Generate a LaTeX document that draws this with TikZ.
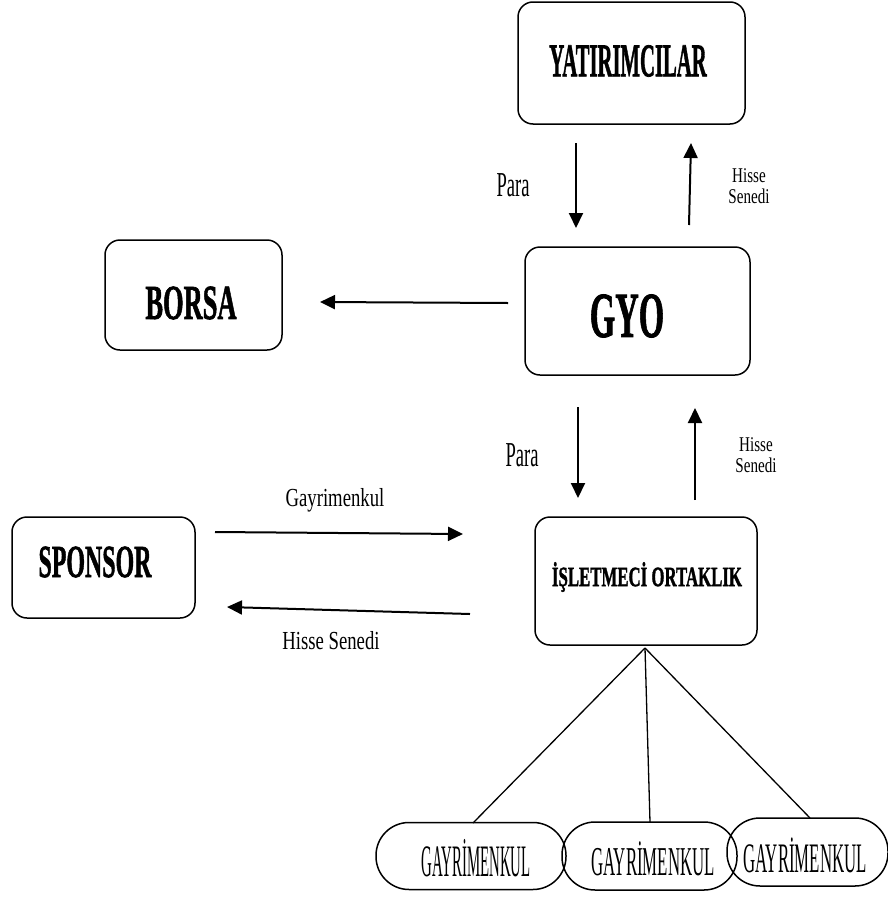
\documentclass[tikz,border=0pt]{standalone}
\usepackage{graphicx}
\usepackage{fontspec}
\setmainfont{Liberation Serif}
\newfontfamily\heavyfont[UprightFont=* Bold,FakeBold=1.6]{Liberation Serif}
\usetikzlibrary{arrows.meta}
\newcommand\mytxt[3]{\scalebox{#2}[1]{\fontsize{#1}{#1}\selectfont #3}}
\begin{document}
\begin{tikzpicture}[x=1pt,y=-1pt,
  box/.style={draw,line width=1.5pt,rounded corners=15pt,inner sep=0pt},
  pill/.style={draw,line width=1.5pt,rounded corners=33pt,inner sep=0pt},
  arr/.style={line width=2pt,-{Triangle[length=15pt,width=14pt]}},
  lbl/.style={inner sep=0pt,align=center},
  conn/.style={line width=1.3pt}]
\useasboundingbox (0,0) rectangle (888,897);

% main boxes
\node[box,minimum width=227pt,minimum height=122pt] (yat) at (631.5,63) {};
\node[lbl] (yatT) at (628,61) {\mytxt{47}{0.44}{\heavyfont YATIRIMCILAR}};
\node[box,minimum width=225pt,minimum height=128pt] (gyo) at (637.5,311) {};
\node[lbl] (gyoT) at (627,316) {\mytxt{64}{0.51}{\heavyfont GYO}};
\node[box,minimum width=177pt,minimum height=110pt] (borsa) at (193.5,295) {};
\node[lbl] (borsaT) at (191,303) {\mytxt{49}{0.54}{\heavyfont BORSA}};
\node[box,minimum width=183pt,minimum height=101pt] (spon) at (103.5,567.5) {};
\node[lbl] (sponT) at (95,562) {\mytxt{46}{0.52}{\heavyfont SPONSOR}};
\node[box,minimum width=222pt,minimum height=128pt] (isl) at (646,581) {};
\node[lbl] (islT) at (647,577) {\mytxt{28}{0.6}{\heavyfont İŞLETMECİ ORTAKLIK}};

% bottom pills
\node[pill,minimum width=190pt,minimum height=67pt] (g1) at (471,856) {};
\node[lbl] (g1T) at (476,858) {\mytxt{45}{0.33}{GAYRİMENKUL}};
\node[pill,minimum width=175pt,minimum height=68pt] (g2) at (649.5,856) {};
\node[lbl] (g2T) at (653,859) {\mytxt{41}{0.41}{GAYRİMENKUL}};
\node[pill,minimum width=161pt,minimum height=68pt] (g3) at (807.5,852) {};
\node[lbl] (g3T) at (805,855) {\mytxt{42}{0.40}{GAYRİMENKUL}};

% connector lines
\coordinate (top) at (645,648);
\coordinate (e1) at (473,823);
\coordinate (e2) at (650,822);
\coordinate (e3) at (810,818);
\draw[conn] (top) -- (e1);
\draw[conn] (top) -- (e2);
\draw[conn] (top) -- (e3);

% arrows
\coordinate (a1s) at (576,143); \coordinate (a1e) at (576,228);
\coordinate (a2s) at (689,225); \coordinate (a2e) at (691,143);
\coordinate (a3s) at (508,303); \coordinate (a3e) at (320,302);
\coordinate (a4s) at (578,407); \coordinate (a4e) at (578,498);
\coordinate (a5s) at (695,500); \coordinate (a5e) at (695,408);
\coordinate (a6s) at (215,532); \coordinate (a6e) at (463,534);
\coordinate (a7s) at (470,614); \coordinate (a7e) at (227,607);
\draw[arr] (a1s) -- (a1e);
\draw[arr] (a2s) -- (a2e);
\draw[arr] (a3s) -- (a3e);
\draw[arr] (a4s) -- (a4e);
\draw[arr] (a5s) -- (a5e);
\draw[arr] (a6s) -- (a6e);
\draw[arr] (a7s) -- (a7e);

% labels
\node[lbl] (p1) at (513,185) {\mytxt{35}{0.53}{Para}};
\node[lbl] (h1) at (749,189) {\scalebox{0.72}[1]{\fontsize{21}{21}\selectfont\begin{tabular}{@{}c@{}}Hisse\\Senedi\end{tabular}}};
\node[lbl] (p2) at (522,455) {\mytxt{35}{0.53}{Para}};
\node[lbl] (h2) at (756,458) {\scalebox{0.72}[1]{\fontsize{21}{21}\selectfont\begin{tabular}{@{}c@{}}Hisse\\Senedi\end{tabular}}};
\node[lbl] (gl) at (335,500) {\mytxt{26}{0.72}{Gayrimenkul}};
\node[lbl] (hl) at (331,641) {\mytxt{26}{0.72}{Hisse Senedi}};
\end{tikzpicture}
\end{document}
